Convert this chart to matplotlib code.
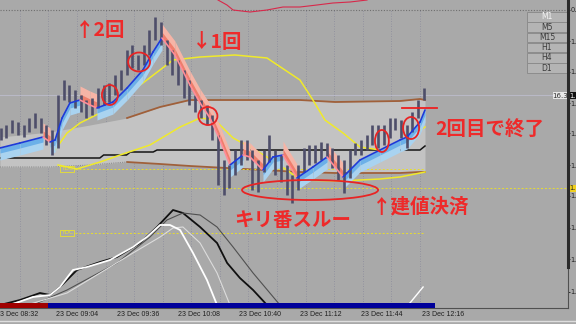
import numpy as np
import matplotlib
matplotlib.use('Agg')
import matplotlib.pyplot as plt
from matplotlib.patches import Ellipse, Rectangle
from matplotlib.lines import Line2D

W, H = 576, 324
BG = '#a9a9a9'
JP = ['Noto Sans CJK JP', 'DejaVu Sans']

# time axis: minutes after 23 Dec 08:32, 3-minute bars
bar_min = np.arange(3, 226, 3)
bar_hi = [180, 183, 188, 186, 183, 190, 195, 190, 183, 178, 213, 228, 223, 218, 213,
          208, 210, 220, 223, 225, 233, 238, 258, 263, 253, 263, 278, 291, 286, 268,
          258, 248, 238, 228, 213, 208, 203, 193, 173, 148, 143, 158, 168, 168, 158,
          148, 158, 173, 158, 153, 143, 133, 143, 160, 163, 163, 166, 165, 160, 153,
          148, 158, 165, 168, 173, 183, 183, 183, 190, 190, 188, 183, 196, 208, 220]
bar_lo = [168, 170, 175, 173, 171, 176, 180, 175, 163, 153, 160, 208, 206, 200, 196,
          190, 193, 200, 203, 206, 213, 218, 233, 240, 238, 243, 253, 268, 263, 243,
          233, 223, 210, 203, 196, 190, 183, 168, 123, 113, 120, 133, 143, 148, 118,
          116, 136, 146, 133, 126, 113, 105, 118, 136, 143, 145, 148, 150, 140, 128,
          115, 130, 153, 153, 158, 163, 160, 163, 170, 178, 170, 160, 176, 190, 208]

# fast moving average (ribbon), 1 = rising, 0 = falling
ma_min = [2.6, 13.1, 25.2, 28.9, 31.5, 35.2, 39.3, 44.6, 49.8, 53.5, 61.9, 69.3,
          77.6, 82.9, 87.6, 94.4, 102.3, 107.6, 112.8, 118.0, 123.3, 130.1, 133.8,
          140.6, 145.8, 151.1, 158.4, 166.8, 174.2, 182.6, 191.5, 202.0, 212.5,
          216.2, 223.0, 225.6]
ma_val = [160, 165, 171, 166, 168, 190, 205, 208, 203, 200, 206, 220, 238, 256, 270,
          253, 223, 205, 190, 168, 143, 153, 151, 138, 151, 153, 130, 141, 151, 131,
          148, 158, 168, 171, 186, 198]
ma_up = [1, 1, 1, 0, 1, 1, 1, 1, 0, 0, 1, 1, 1, 1, 1, 0, 0, 0, 0, 0, 0, 1, 0, 0,
         1, 1, 0, 1, 1, 0, 1, 1, 1, 1, 1, 1]

# yellow averages
ya_min = [31.5, 37.8, 44.6, 55.1, 65.6, 77.6, 93.4, 107.6, 125.9, 142.7, 160.0,
          166.8, 173.1, 182.6, 191.5, 202.0, 208.8, 216.2, 223.0, 225.6]
ya_val = [158, 175, 185, 195, 208, 225, 248, 251, 253, 250, 228, 208, 188, 175, 161,
          158, 161, 168, 178, 181]
yb_min = [33.1, 43.0, 55.1, 65.6, 81.3, 97.1, 107.6, 115.4, 124.9, 133.8, 142.7,
          153.2, 160.0, 181.0, 202.0, 212.5, 225.6]
yb_val = [143, 139, 146, 153, 163, 181, 190, 188, 170, 161, 151, 138, 128, 127, 129,
          131, 136]

# brown bands and the light channel
band_min = [2.6, 28.9, 49.8, 69.3, 86.6, 102.3, 160.0, 178.4, 212.5, 223.0, 225.6]
band_top = [171, 176, 183, 190, 201, 208, 208, 206, 207, 209, 208]
band_bot = [141, 141, 143, 146, 144, 142, 136, 135, 135, 136, 136]
brown_from = 3  # brown lines drawn from this point on

# black step line
blk_min = [2.6, 55, 57, 69, 71, 83, 85, 223, 225.6]
blk_val = [150, 150, 153, 153, 156, 156, 158, 158, 162]

# lower oscillator lines
osc_black_min = [2.6, 13.1, 23.6, 28.9, 34.1, 43.0, 55.1, 64.0, 76.1, 85.0, 93.4,
                 98.6, 107.6, 116.5, 121.8, 128.5, 135.4, 142.7]
osc_black_val = [3, 8, 15, 13, 21, 38, 46, 51, 65, 81, 98, 95, 81, 65, 45, 30, 18, 3]
osc_dgray_min = [19.9, 37.8, 64.0, 81.3, 90.2, 98.6, 107.6, 116.5, 124.9, 135.4, 149.5]
osc_dgray_val = [3, 18, 45, 71, 88, 95, 93, 81, 61, 35, 3]
osc_white_min = [7.9, 19.9, 28.9, 34.1, 40.9, 48.3, 60.3, 72.4, 79.7, 86.6, 91.8,
                 97.1, 103.9, 111.2, 116.5]
osc_white_val = [3, 11, 13, 21, 38, 41, 48, 61, 71, 83, 83, 78, 55, 28, 3]
osc_lgray_min = [16.8, 37.8, 55.1, 72.4, 86.6, 93.4, 98.6, 107.6, 116.5, 123.3]
osc_lgray_val = [3, 15, 35, 55, 71, 80, 81, 65, 35, 3]
osc_white2_min = [217.7, 224.6]
osc_white2_val = [5, 21]

# upper window line
top_min = [117.0, 121.7, 124.9, 133.8, 142.7, 151.1, 160.0, 168.9, 177.3, 186.3, 195.2]
top_val = [308, 303, 298, 296, 298, 301, 301, 303, 305, 306, 308]

# annotations
circ_min = [60.3, 75.6, 111.7, 203.0, 218.3, 165.3]
circ_val = [213, 246, 192, 167, 180, 118]
circ_w = [8.4, 11.5, 10.0, 7.3, 8.4, 71.4]
circ_h = [20, 19, 18, 22, 22, 20]
notes = ['↑2回', '↓1回', '2回目で終了', 'キリ番スルー', '↑建値決済']
note_min = [55.1, 116.5, 259.7, 156.3, 223.5]
note_val = [278, 266, 178, 87, 101]

xlab_min = [0, 32, 64, 96, 128, 160, 192, 224]
xlab_txt = ['23 Dec 08:32', '23 Dec 09:04', '23 Dec 09:36', '23 Dec 10:08',
            '23 Dec 10:40', '23 Dec 11:12', '23 Dec 11:44', '23 Dec 12:16']
ytick_val = [298, 267, 236, 205, 175, 143, 112, 80, 49, 16]
ytick_txt = ['0.', '1.', '1.', '1.', '1.', '1.', '1.', '1.', '1.', '1.']
grid_min = np.arange(13, 224, 15)
tf_buttons = ['M1', 'M5', 'M15', 'H1', 'H4', 'D1']

fig = plt.figure(figsize=(W / 100, H / 100), dpi=100)
fig.patch.set_facecolor(BG)
ax = fig.add_axes([0, 16 / H, 568 / W, 308 / H])
ax.set_facecolor(BG)
ax.set_xlim(5 / 1.906, 573 / 1.906)
ax.set_ylim(0, 308)

# grid and reference lines
for g in grid_min:
    ax.axvline(g, ymin=4 / 308, ymax=298 / 308, color='#8a8a9c', lw=0.6, ls=(0, (1, 2)), zorder=1)
ax.axhline(298, color='#6e6e6e', lw=0.8, ls=(0, (1, 1.5)), zorder=1)
ax.axhline(213, color='#b9b9c6', lw=0.8, zorder=1)

# light channel + brown bands
ax.fill_between(band_min, band_bot, band_top, color='#c3c3c3', lw=0, zorder=1)
ax.plot(band_min[brown_from:], band_top[brown_from:], color='#a0603a', lw=1.3, zorder=2)
ax.plot(band_min[brown_from:], band_bot[brown_from:], color='#a0603a', lw=1.3, zorder=2)
ax.plot(band_min[:brown_from + 1], band_bot[:brown_from + 1], color='#8e8e8e', lw=0.8,
        ls=(0, (1, 1)), zorder=2)
ax.plot(blk_min, blk_val, color='#151515', lw=1.1, zorder=2)

# yellow dotted levels
ax.plot([42, 225.6], [139, 139], color='#e6dc30', lw=0.7, ls=(0, (2, 2)), zorder=2)
ax.plot([42, 224.6], [75, 75], color='#e6dc30', lw=0.7, ls=(0, (2, 2)), zorder=2)
ax.axhline(120, color='#e6dc30', lw=0.7, ls=(0, (2, 2)), zorder=2)
for v in (139, 75):
    ax.text(37.8, v, 'YDC', color='#e8e030', fontsize=4.2, ha='center', va='center', zorder=3,
            bbox=dict(boxstyle='square,pad=0.15', fc='none', ec='#e8e030', lw=0.6))

# yellow averages
ax.plot(ya_min, ya_val, color='#f0ea2a', lw=1.1, zorder=3)
ax.plot(yb_min, yb_val, color='#f0ea2a', lw=1.1, zorder=3)

# ribbon
for i in range(len(ma_min) - 1):
    xs = ma_min[i:i + 2]
    ys = np.array(ma_val[i:i + 2])
    if ma_up[i + 1]:
        ax.fill_between(xs, ys, ys - 12, color='#a9d3f0', lw=0, zorder=3)
        ax.fill_between(xs, ys, ys - 5, color='#6cb0e8', lw=0, zorder=3)
    else:
        ax.fill_between(xs, ys, ys + 14, color='#f6b4a6', lw=0, zorder=3)
        ax.fill_between(xs, ys, ys + 6, color='#ef7e6c', lw=0, zorder=3)

# price bars
ax.vlines(bar_min, bar_lo, bar_hi, color='#4e4e6a', lw=1.9, zorder=4)

# ribbon line
for i in range(len(ma_min) - 1):
    c = '#1d3ad8' if ma_up[i + 1] else '#ff8c98'
    ax.plot(ma_min[i:i + 2], ma_val[i:i + 2], color=c, lw=1.2, zorder=5,
            solid_capstyle='round')

# oscillator window
ax.plot(osc_black_min, osc_black_val, color='#101010', lw=1.3, zorder=3)
ax.plot(osc_dgray_min, osc_dgray_val, color='#505050', lw=0.8, zorder=3)
ax.plot(osc_lgray_min, osc_lgray_val, color='#dcdcdc', lw=0.8, zorder=3)
ax.plot(osc_white_min, osc_white_val, color='#ffffff', lw=1.3, zorder=3)
ax.plot(osc_white2_min, osc_white2_val, color='#ffffff', lw=1.0, zorder=3)
ax.plot(top_min, top_val, color='#d8284a', lw=0.8, zorder=3)

# session strip
ax.add_patch(Rectangle((2.6, 0.3), 25.2, 4.7, color='#a00000', lw=0, zorder=6))
ax.add_patch(Rectangle((27.8, 0.3), 203.0, 4.7, color='#00009a', lw=0, zorder=6))

# annotations
for m, v, w, h in zip(circ_min, circ_val, circ_w, circ_h):
    ax.add_patch(Ellipse((m, v), w, h, fill=False, ec='#e82424', lw=1.3, zorder=7))
ax.plot([213.5, 231.9], [200, 200], color='#ee2020', lw=1.3, zorder=7)
for s, m, v in zip(notes, note_min, note_val):
    ax.text(m, v, s, color='#ee2a2a', fontsize=14, fontweight='bold', family=JP,
            ha='center', va='center', zorder=8)

# axes frame and labels
for side in ('left', 'top'):
    ax.spines[side].set_visible(False)
ax.spines['bottom'].set_color('#505050')
ax.spines['right'].set_color('#505050')
ax.spines['bottom'].set_linewidth(0.8)
ax.set_xticks([])
ax.yaxis.tick_right()
ax.set_yticks(ytick_val)
ax.set_yticklabels(ytick_txt)
ax.tick_params(axis='y', length=1.5, width=0.6, pad=0.3, labelsize=4.8, colors='#202020')
for m, s in zip(xlab_min, xlab_txt):
    ax.text(max(m, 5 / 1.906), -7, s if m else s[1:], fontsize=5, color='#202020',
            ha='left', va='center', family='Liberation Sans', clip_on=False)


def fx(x):
    return x / W


def fy(y):
    return 1 - y / H


fig.add_artist(Line2D([fx(568), fx(568)], [fy(0), fy(267)], color='#2a2a2a', lw=2.2))
fig.add_artist(Line2D([0, 1], [fy(321), fy(321)], color='#dedede', lw=1.0))

# timeframe buttons
for k, name in enumerate(tf_buttons):
    top = 12 + k * 10.3
    fig.add_artist(Rectangle((fx(527), fy(top + 9.5)), 40 / W, 9.5 / H, fc='#b4b4b4',
                             ec='#8c8c8c', lw=0.7, transform=fig.transFigure))
    fig.text(fx(547), fy(top + 4.8), name, fontsize=5.5, ha='center', va='center',
             color='#f4f4f4' if k == 0 else '#3a3a3a')

# price tags
fig.add_artist(Rectangle((fx(553), fy(99)), 15 / W, 7 / H, fc='#e8e8e8', ec='none',
                         transform=fig.transFigure))
fig.text(fx(560.5), fy(95.5), '16.3', fontsize=5, ha='center', va='center', color='#303030')
fig.add_artist(Rectangle((fx(568), fy(99)), 8 / W, 7 / H, fc='#101010', ec='none',
                         transform=fig.transFigure))
fig.text(fx(569.5), fy(95.5), '1.', fontsize=4.8, ha='left', va='center', color='#ffffff')
fig.add_artist(Rectangle((fx(568), fy(192)), 8 / W, 7 / H, fc='#f0d020', ec='none',
                         transform=fig.transFigure))
fig.text(fx(569.5), fy(188.5), '1.', fontsize=4.8, ha='left', va='center', color='#202020')

fig.savefig('out.png', dpi=100, facecolor=BG)
